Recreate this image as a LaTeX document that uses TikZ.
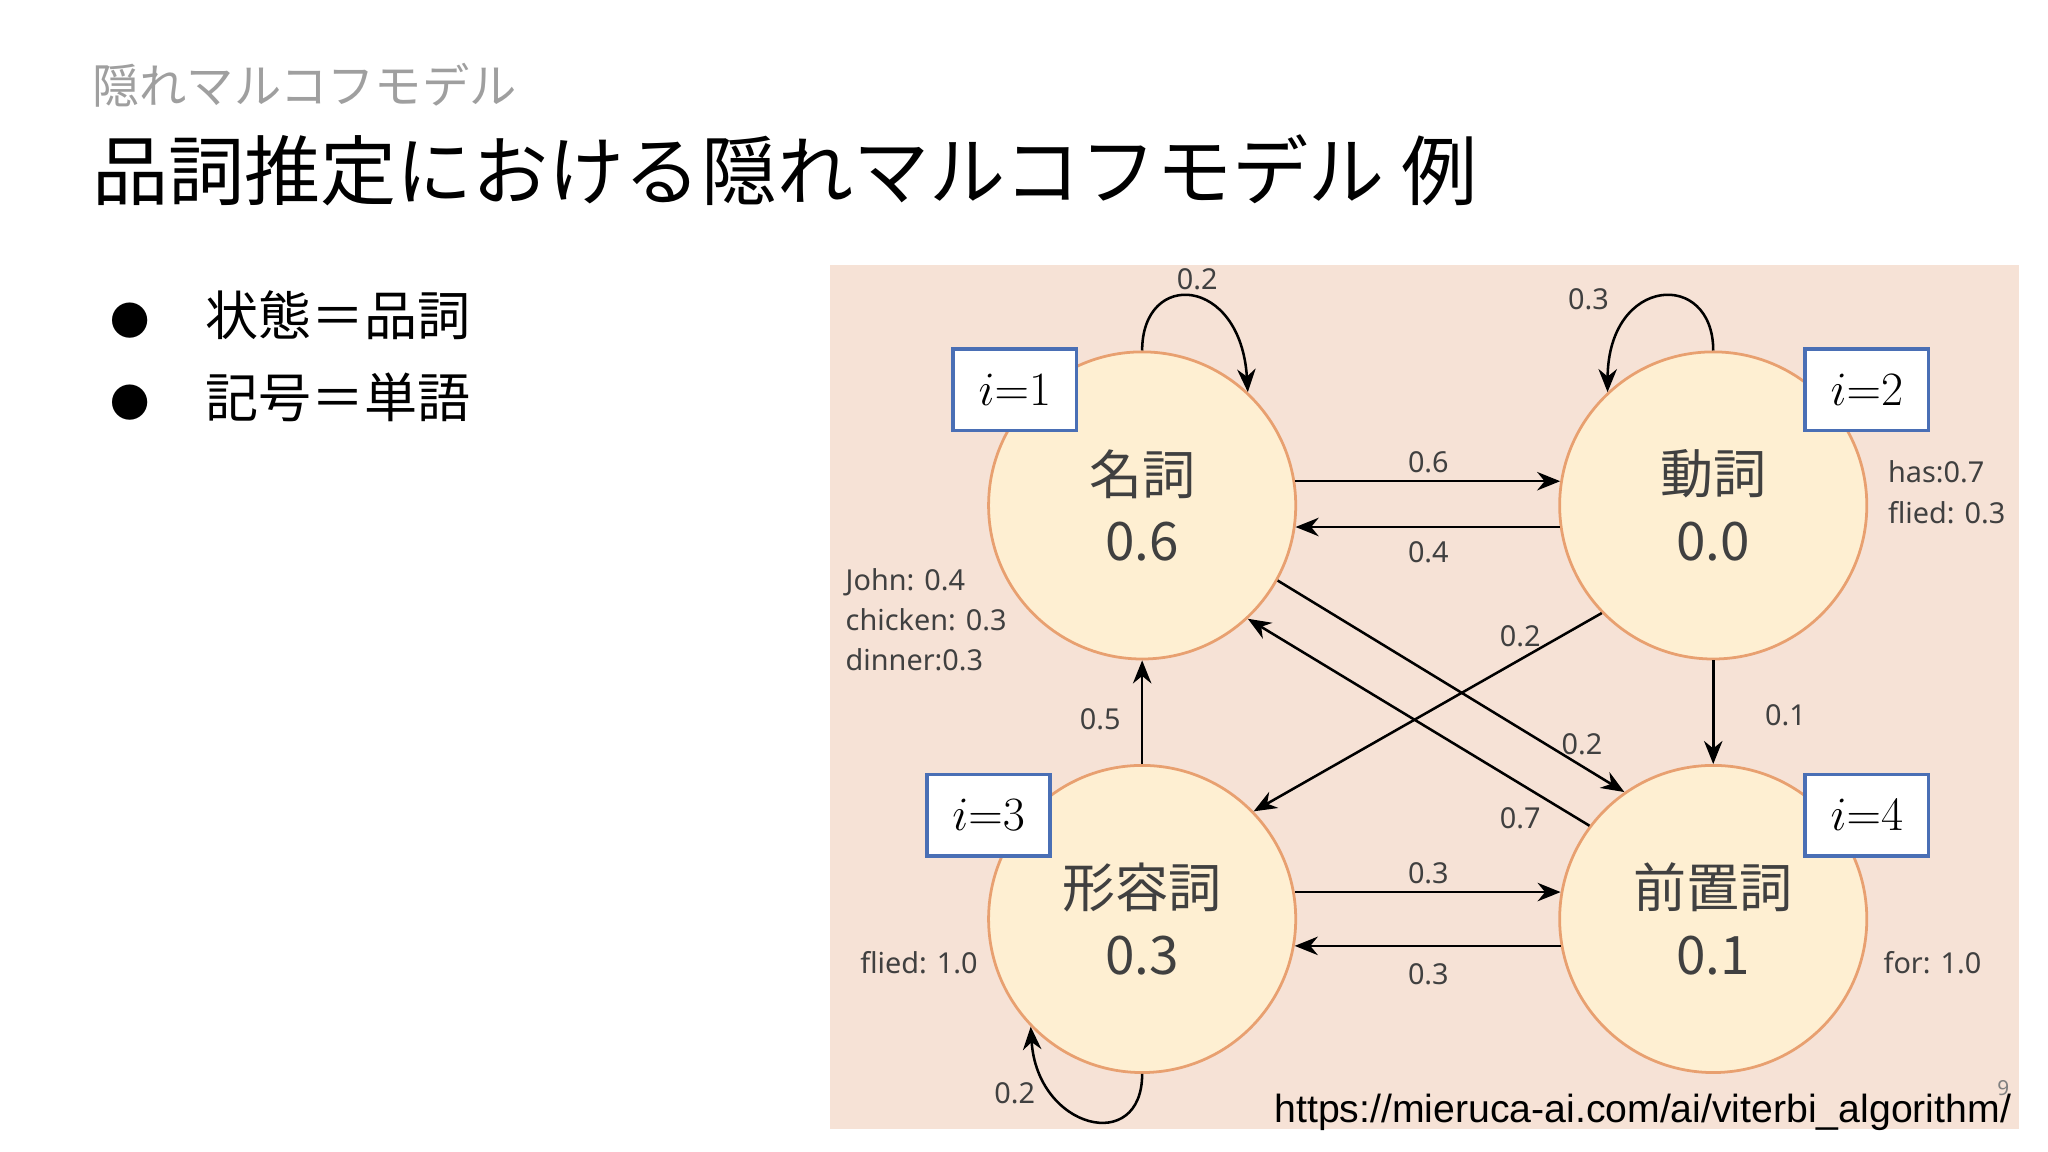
\documentclass[tikz,border=0pt]{standalone}
\usepackage{fontspec}
\setmainfont{Noto Sans CJK JP}
\newfontfamily\lab{Noto Sans}
\newfontfamily\urlf{Liberation Sans}
\usetikzlibrary{arrows.meta}
\definecolor{panel}{HTML}{F6E2D6}
\definecolor{cfill}{HTML}{FEEFD2}
\definecolor{cdraw}{HTML}{E8A070}
\definecolor{bbox}{HTML}{4A6FB5}
\definecolor{txt}{HTML}{404040}
\tikzset{
 st/.style={circle,draw=cdraw,fill=cfill,line width=1.2pt,minimum size=4.68cm,inner sep=0pt,align=center,font=\fontsize{23}{29}\selectfont,text=txt},
 ibox/.style={draw=bbox,fill=white,line width=1.6pt,minimum width=1.88cm,minimum height=1.24cm,font=\fontsize{20}{24}\selectfont},
 ar/.style={line width=1.1pt,-{Stealth[length=10pt,width=8pt]}},
 el/.style={font=\lab\fontsize{12.5}{15}\selectfont,text=txt},
 em/.style={font=\lab\fontsize{12.5}{17.5}\selectfont,text=txt,align=left},
 bul/.style={anchor=west,font=\fontsize{23}{28}\selectfont},
}
\begin{document}
\begin{tikzpicture}[x=0.02cm,y=-0.02cm]
\useasboundingbox (0,0) rectangle (1560,877.5);
\node[anchor=west,text=gray!75,font=\fontsize{20.5}{24}\selectfont] (t1) at (64,65) {隠れマルコフモデル};
\node[anchor=west,font=\fontsize{33}{38}\selectfont] (t2) at (64,130) {品詞推定における隠れマルコフモデル 例};
\node[bul] (b1) at (78,240) {{\fontsize{17}{20}\selectfont ●}\hspace{1.05em}状態＝品詞};
\node[bul] (b2) at (78,303) {{\fontsize{17}{20}\selectfont ●}\hspace{1.05em}記号＝単語};
\fill[panel] (632,202) rectangle (1538,860);
\node[st] (n1) at (870,385) {名詞\\0.6};
\node[st] (n2) at (1305,385) {動詞\\0.0};
\node[st] (n3) at (870,700) {形容詞\\0.3};
\node[st] (n4) at (1305,700) {前置詞\\0.1};
\node[ibox] (i1) at (773,297) {$i{=}1$};
\node[ibox] (i2) at (1422,297) {$i{=}2$};
\node[ibox] (i3) at (753,621) {$i{=}3$};
\node[ibox] (i4) at (1422,621) {$i{=}4$};
\draw[ar] (n1.9) -- (n2.171);
\draw[ar] (n2.188) -- (n1.-8);
\draw[ar] (n3.10) -- (n4.170);
\draw[ar] (n4.190) -- (n3.-10);
\draw[ar] (n2.270) -- (n4.90);
\draw[ar] (n3.90) -- (n1.270);
\draw[ar] (n2.224) -- (n3.44);
\draw[ar] (n1.-29) -- (n4.125);
\draw[ar] (n4.143) -- (n1.-47);
\draw[ar] (n1.90) .. controls (870,205) and (945,210) .. (n1.47);
\draw[ar] (n2.90) .. controls (1305,205) and (1225,210) .. (n2.133);
\draw[ar] (n3.270) .. controls (870,880) and (790,860) .. (n3.224);
\node[el] (l1) at (1088,352) {0.6};
\node[el] (l2) at (1088,421) {0.4};
\node[el] (l3) at (1088,665) {0.3};
\node[el] (l4) at (1088,742) {0.3};
\node[el] (l5) at (1360,545) {0.1};
\node[el] (l6) at (838,548) {0.5};
\node[el] (l7) at (1158,485) {0.2};
\node[el] (l8) at (1205,567) {0.2};
\node[el] (l9) at (1158,623) {0.7};
\node[el] (l10) at (912,213) {0.2};
\node[el] (l11) at (1210,228) {0.3};
\node[el] (l12) at (773,833) {0.2};
\node[em,anchor=west] (e1) at (638,472) {John: 0.4\\chicken: 0.3\\dinner:0.3};
\node[em,anchor=west] (e2) at (1432,375) {has:0.7\\flied: 0.3};
\node[em] (e3) at (700,733) {flied: 1.0};
\node[em] (e4) at (1472,733) {for: 1.0};
\node[text=gray,font=\lab\fontsize{9}{10}\selectfont] (pg) at (1526,829) {9};
\node[anchor=east,font=\urlf\fontsize{17}{19}\selectfont] (url) at (1538,847) {https://mieruca-ai.com/ai/viterbi\_algorithm/};
\end{tikzpicture}
\end{document}
